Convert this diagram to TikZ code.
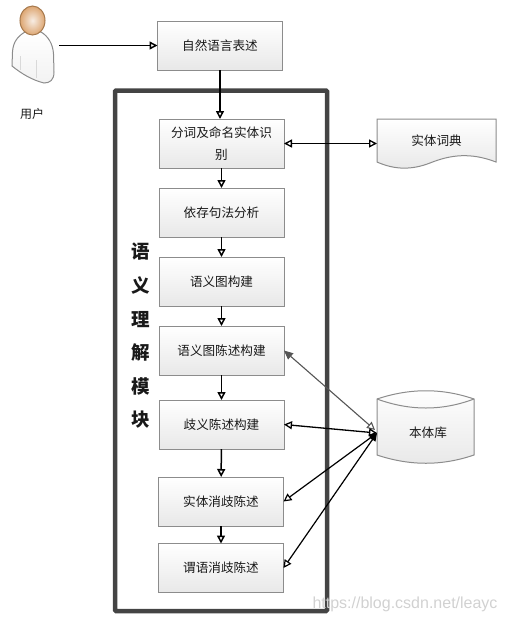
\documentclass[tikz,border=0pt]{standalone}
\usepackage{fontspec}
\newfontfamily\cjk{Noto Sans CJK SC}
\setsansfont{Liberation Sans}
\usetikzlibrary{arrows.meta,positioning,backgrounds,calc}
\definecolor{edgegray}{HTML}{8C8C8C}
\definecolor{framegray}{HTML}{444444}
\definecolor{linkgray}{HTML}{555555}
\definecolor{headedge}{HTML}{A5784C}
\definecolor{headout}{HTML}{DDA672}
\definecolor{headin}{HTML}{F7EDE4}
\tikzset{
  procbox/.style={draw=edgegray,line width=1pt,minimum height=49pt,minimum width=125pt,
    outer sep=0pt,align=center,text width=114pt,font=\cjk\fontsize{12.6}{22}\selectfont,
    top color=white,bottom color=black!9,text=black!90},
  store/.style={minimum height=49pt,outer sep=0pt,inner sep=0pt,
    font=\cjk\fontsize{12.6}{15}\selectfont,text=black!90},
  shapeline/.style={draw=edgegray,line width=1pt,top color=white,bottom color=black!9},
  flow/.style={-{Triangle[open,length=8pt,width=8pt]},line width=1.5pt},
  dflow/.style={{Triangle[open,length=8pt,width=8pt]}-{Triangle[open,length=8pt,width=8pt]},line width=1.3pt},
  bflow/.style={{Triangle[length=8pt,width=7pt]}-{Triangle[open,length=8pt,width=8pt]},line width=1.2pt},
}
\begin{document}
\begin{tikzpicture}[x=1pt,y=-1pt]
  \useasboundingbox (0,0) rectangle (505,622);

  % person
  \draw[draw=edgegray,line width=1pt,top color=white,bottom color=black!5]
    (25,32) .. controls (18,36) and (13,42) .. (12.5,52)
    -- (12,66) .. controls (22,74) and (32,80) .. (44,83)
    .. controls (50,83) and (54,80) .. (54,72)
    -- (53.5,54) .. controls (53,44) and (48,36) .. (41,32) -- cycle;
  \draw[black!15,line width=0.7pt] (20,56) -- (20,70) (36,60) -- (36,78);
  \draw[draw=headedge,line width=1pt,inner color=headin,outer color=headout]
    (32.5,20.5) ellipse (12.5 and 14.5);
  \coordinate (userout) at (59,45.5);
  \node[font=\cjk\fontsize{12}{14}\selectfont,text=black!90] (user) at (32,114) {用户};

  \node[procbox] (ziran) at (220,45.5) {自然语言表述};
  \node[procbox] (fenci) at (221.5,143.5) {分词及命名实体识\\别};
  \node[procbox,below=20pt of fenci] (yicun) {依存句法分析};
  \node[procbox,below=20pt of yicun] (tugou) {语义图构建};
  \node[procbox,below=20pt of tugou] (tuchen) {语义图陈述构建};
  \node[procbox,below=25pt of tuchen] (qiyi) {歧义陈述构建};
  \node[procbox,below=28pt of qiyi,xshift=-0.5pt] (shiti) {实体消歧陈述};
  \node[procbox,below=17.5pt of shiti] (weiyu) {谓语消歧陈述};

  % module frame sits behind the arrows
  \begin{scope}[on background layer]
    \draw[framegray,line width=4.5pt,rounded corners=1pt] (115,90.5) rectangle (327,611);
  \end{scope}
  \node[font=\cjk\bfseries\fontsize{18.5}{33.6}\selectfont,align=center,text=black!90] (module) at (141,336)
    {语\\义\\理\\解\\模\\块};

  % dictionary
  \draw[shapeline] (377,119) -- (496,119) -- (496,162)
    .. controls (470,152) and (450,155) .. (430,163)
    .. controls (412,170) and (395,170) .. (377,162) -- cycle;
  \node[store,minimum width=119pt] (cidian) at (436.5,143.5) {\raisebox{6pt}{实体词典}};

  % ontology store
  \draw[shapeline] (377,399) .. controls (410,388) and (442,388) .. (474,399)
    -- (474,455) .. controls (442,466) and (410,466) .. (377,455) -- cycle;
  \draw[edgegray,line width=1pt] (377,399) .. controls (410,411) and (442,411) .. (474,399);
  \node[store,minimum width=97pt,minimum height=71pt] (benti) at (425.5,433) {\hspace{5pt}\raisebox{-2pt}{本体库}};

  \draw[flow] (userout) -- (ziran.west);
  \draw[flow] (ziran.south) -- (fenci.north-|ziran.south);
  \draw[flow] (fenci) -- (yicun);
  \draw[flow] (yicun) -- (tugou);
  \draw[flow] (tugou) -- (tuchen);
  \draw[flow] (tuchen) -- (qiyi);
  \draw[flow] (qiyi) -- (shiti);
  \draw[flow] (shiti) -- (weiyu);
  \draw[dflow] (fenci.east) -- (cidian.west);

  % links to the ontology store
  \draw[{Triangle[open,length=8pt,width=8pt]}-{Triangle[length=9pt,width=8pt]},linkgray,line width=1.1pt]
    (benti.west) ++(-2,-3) coordinate (bentia) -- (tuchen.east);
  \draw[dflow] (benti.west) -- (qiyi.east);
  \draw[bflow] (benti.west) -- (shiti.east);
  \draw[bflow] (benti.west) -- (weiyu.east);

  \node[font=\sffamily\fontsize{16}{18}\selectfont,text=black!18] (mark) at (405,604) {https://blog.csdn.net/leayc};
\end{tikzpicture}
\end{document}
